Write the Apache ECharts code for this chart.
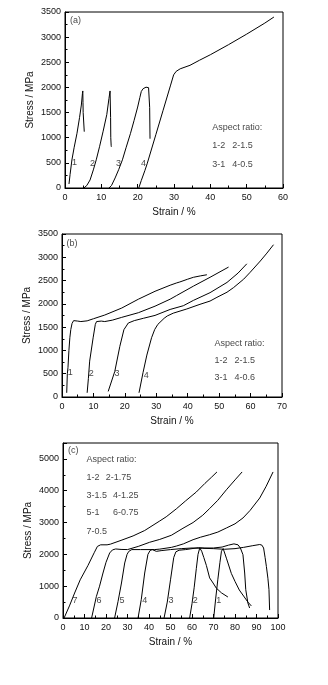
<!DOCTYPE html>
<html>
<head>
<meta charset="utf-8">
<script src="https://cdn.jsdelivr.net/npm/echarts@6/dist/echarts.min.js"></script>
<style>
html,body{margin:0;padding:0;background:#fff;}
#chart{width:328px;height:685px;}
</style>
</head>
<body>
<div id="chart"></div>
<script>
// ---------- Panel (a): strain %, stress MPa ----------
const a1 = [[1.1,80],[1.4,270],[1.9,557],[2.5,800],[3.3,1088],[4,1400],[4.5,1650],[4.8,1880],[4.9,1930],[4.95,1700],[5.0,1500],[5.25,1480],[5.3,1120]];
const a2 = [[5.2,0],[6,50],[6.9,160],[7.8,360],[8.6,560],[9.5,820],[10.5,1130],[11.5,1460],[12.1,1780],[12.4,1930],[12.5,1900],[12.55,1400],[12.6,1000],[12.7,850],[12.75,820]];
const a3 = [[12.1,0],[12.8,50],[13.8,200],[14.8,370],[15.8,560],[16.8,800],[18,1080],[19,1340],[20,1610],[20.6,1800],[21,1920],[21.5,1975],[21.8,1995],[22,1975],[22.3,2005],[22.5,1985],[22.8,2015],[23,1995],[23.2,2030],[23.3,1600],[23.35,1580],[23.4,980]];
const a4 = [[20.3,0],[21,150],[22,350],[22.6,480],[25,1060],[27,1545],[29,2030],[29.9,2250],[30.6,2320],[31.7,2370],[34.4,2440],[37,2540],[40,2650],[45,2850],[50,3060],[55,3280],[57.5,3400]];
const aNotes = [[1.4,3330,'(a)','left'],[2.6,510,'1','center'],[7.6,490,'2','center'],[14.7,477,'3','center'],[21.6,477,'4','center'],
  [40.5,1193,'Aspect ratio:','left'],[40.5,835,'1-2','left'],[46.0,835,'2-1.5','left'],[40.5,471,'3-1','left'],[46.0,471,'4-0.5','left']];

// ---------- Panel (b) ----------
const b1 = [[1.5,90],[1.7,500],[1.9,630],[2.2,1000],[2.5,1273],[2.8,1450],[3.2,1580],[3.7,1640],[4.3,1660],[5,1630],[6,1620],[8,1635],[10,1680],[13.6,1760],[19,1910],[24.3,2100],[29.6,2270],[34.4,2400],[36.5,2450],[36.9,2420],[37.5,2470],[38,2450],[40,2530],[41.8,2570],[44,2600],[46.1,2625]];
const b2 = [[8.0,90],[8.4,400],[8.8,770],[9.9,1270],[10.6,1560],[11.0,1620],[11.5,1650],[12.5,1630],[13.6,1620],[16,1650],[19,1710],[24.3,1810],[29.6,1950],[34.4,2100],[36.5,2180],[41.8,2380],[47.1,2570],[53,2790]];
const b3 = [[14.7,120],[16.8,551],[18.4,1088],[19.7,1446],[21.1,1589],[23,1640],[25.9,1690],[29.6,1752],[34.4,1880],[38.6,1960],[41.8,2074],[47.1,2240],[52.5,2460],[56,2660],[58.8,2860]];
const b4 = [[24.5,90],[25.8,530],[27,900],[28.5,1273],[29.5,1450],[30.5,1560],[31.5,1625],[32.5,1690],[33.5,1740],[35.4,1800],[39.7,1890],[43.9,1990],[47.1,2060],[49.3,2140],[52.5,2250],[54.6,2350],[57.8,2530],[59.9,2680],[63.1,2920],[65.2,3090],[67.3,3270]];
const bNotes = [[1.4,3306,'(b)','left'],[2.6,528,'1','center'],[9.3,515,'2','center'],[17.5,494,'3','center'],[26.8,464,'4','center'],
  [48.5,1159,'Aspect ratio:','left'],[48.5,786,'1-2','left'],[54.9,786,'2-1.5','left'],[48.5,408,'3-1','left'],[54.9,408,'4-0.6','left']];

// ---------- Panel (c) ----------
const c7 = [[0.5,0],[3,380],[5.4,785],[8,1200],[11.6,1650],[14.5,2050],[16,2250],[17.5,2300],[20.5,2300],[22,2320],[27,2440],[32.6,2580],[38,2750],[45,3050],[48,3180],[52.7,3430],[57,3680],[62,3960],[66,4230],[69,4420],[71.6,4590]];
const c6 = [[13.3,0],[15.5,670],[17,1000],[18.6,1414],[20,1750],[21.7,2043],[23,2140],[24.5,2170],[27,2155],[30,2150],[35,2250],[40.3,2380],[45,2470],[50.4,2600],[55.8,2820],[60.5,3000],[65,3230],[68.2,3440],[72,3700],[76,4030],[80,4340],[83.3,4590]];
const c5 = [[24,0],[25.6,520],[27.2,1100],[28.7,1730],[29.8,2000],[30.6,2094],[32,2150],[36,2150],[42.7,2150],[45,2165],[50.4,2220],[52.7,2260],[56,2330],[60.5,2461],[64,2540],[68.2,2618],[72,2700],[76,2829],[80,2960],[83.7,3143],[87,3380],[91.5,3771],[94.5,4140],[97.7,4590]];
const c4 = [[34.9,0],[36.4,576],[38,1414],[39.5,2000],[40.5,2120],[41.5,2150],[43.4,2095],[46,2120],[50,2150],[55,2180],[60,2200],[65,2190],[70,2180],[75,2160],[80,2180],[84,2220],[88,2270],[91.5,2310],[92.5,2290],[93.3,2200],[94,1900],[94.6,1620],[95.3,1250],[95.8,890],[96.1,250]];
const c3 = [[47,0],[48.5,500],[50,1200],[51.5,1900],[52.5,2080],[54,2130],[57,2150],[60,2180],[63,2210],[66,2200],[70,2200],[74,2230],[77,2290],[79.5,2330],[81.4,2300],[82.5,2200],[83.7,1990],[84.5,1414],[85,890],[86,471],[86.8,314]];
const c2 = [[58.9,0],[60,450],[61,950],[62,1550],[62.8,2000],[63.6,2200],[64.5,2100],[65.5,1900],[66.7,1650],[68.2,1260],[69.8,1100],[71.3,940],[73.7,790],[76.7,660]];
const c1 = [[70.1,0],[71,600],[72,1200],[73,1750],[73.7,2100],[74.5,2180],[76,1880],[78.3,1400],[80,1150],[82,880],[84,690],[86,500],[87.6,380]];
const cNotes = [[2.3,5260,'(c)','left'],[5.6,555,'7','center'],[16.8,555,'6','center'],[27.4,555,'5','center'],[38.0,555,'4','center'],[50.2,555,'3','center'],[61.5,555,'2','center'],[72.4,555,'1','center'],
  [10.9,4975,'Aspect ratio:','left'],[10.9,4420,'1-2','left'],[19.9,4420,'2-1.75','left'],[10.9,3855,'3-1.5','left'],[23.3,3855,'4-1.25','left'],
  [10.9,3300,'5-1','left'],[23.3,3300,'6-0.75','left'],[10.9,2722,'7-0.5','left']];

// axis settings per panel
const xMax = [60, 70, 100];
const yMax = [3500, 3500, 5500];
const yStep = [500, 500, 1000];

const FF = 'Liberation Sans, Arial, sans-serif';
const TXT = '#111';
const plain = v => String(v);

function xAx(gi){
  return {gridIndex:gi,type:'value',min:0,max:xMax[gi],interval:10,
    name:'Strain / %',nameLocation:'middle',nameGap:19,nameMoveOverlap:false,
    nameTextStyle:{fontFamily:FF,fontSize:10,color:TXT},
    axisLine:{show:true,onZero:false,lineStyle:{color:'#000',width:1}},
    axisTick:{show:true,inside:true,length:4,lineStyle:{color:'#000',width:1}},
    minorTick:{show:true,splitNumber:2,length:2.5,lineStyle:{color:'#000',width:1}},
    axisLabel:{fontFamily:FF,fontSize:9,color:TXT,margin:5,formatter:plain},
    splitLine:{show:false},minorSplitLine:{show:false}};
}
function yAx(gi){
  return {gridIndex:gi,type:'value',min:0,max:yMax[gi],interval:yStep[gi],
    name:'Stress / MPa',nameLocation:'middle',nameGap:30,nameMoveOverlap:false,
    nameTextStyle:{fontFamily:FF,fontSize:10,color:TXT},
    axisLine:{show:true,onZero:false,lineStyle:{color:'#000',width:1}},
    axisTick:{show:true,inside:true,length:4,lineStyle:{color:'#000',width:1}},
    minorTick:{show:true,splitNumber:2,length:2.5,lineStyle:{color:'#000',width:1}},
    axisLabel:{fontFamily:FF,fontSize:9,color:TXT,margin:4,showMaxLabel:gi!==2,formatter:plain},
    splitLine:{show:false},minorSplitLine:{show:false}};
}
function curve(gi,data){
  return {type:'line',xAxisIndex:gi,yAxisIndex:gi,data:data,showSymbol:false,symbol:'none',
    lineStyle:{color:'#000',width:1},silent:true,animation:false};
}
function notes(gi,arr){
  return {type:'scatter',xAxisIndex:gi,yAxisIndex:gi,symbolSize:0,silent:true,animation:false,
    data:arr.map(n=>({value:[n[0],n[1]],name:n[2],label:{align:n[3]}})),
    label:{show:true,position:'inside',formatter:'{b}',fontFamily:FF,fontSize:9,color:TXT}};
}

const chart = echarts.init(document.getElementById('chart'),null,{renderer:'canvas'});
chart.setOption({
  animation:false,
  backgroundColor:'#fff',
  grid:[
    {left:65,top:12,width:218,height:176,show:true,borderColor:'#000',borderWidth:1},
    {left:62,top:234,width:220,height:163,show:true,borderColor:'#000',borderWidth:1},
    {left:63,top:443,width:215,height:175,show:true,borderColor:'#000',borderWidth:1}
  ],
  xAxis:[xAx(0),xAx(1),xAx(2)],
  yAxis:[yAx(0),yAx(1),yAx(2)],
  series:[
    curve(0,a1),curve(0,a2),curve(0,a3),curve(0,a4),notes(0,aNotes),
    curve(1,b1),curve(1,b2),curve(1,b3),curve(1,b4),notes(1,bNotes),
    curve(2,c1),curve(2,c2),curve(2,c3),curve(2,c4),curve(2,c5),curve(2,c6),curve(2,c7),notes(2,cNotes)
  ]
});
</script>
</body>
</html>
